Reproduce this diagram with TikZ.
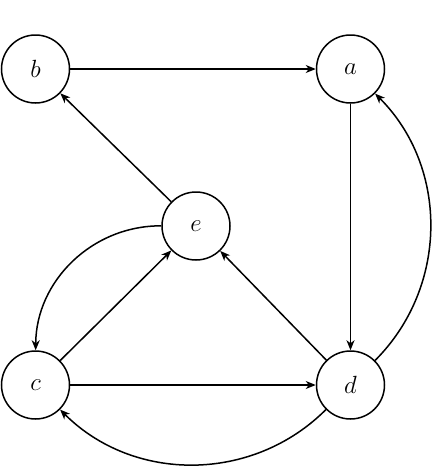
\documentclass[tikz,border=0pt]{standalone}
\usetikzlibrary{arrows.meta}
\begin{document}
\begin{tikzpicture}[x=1pt,y=-1pt,
  vertex/.style={circle,draw,line width=1.5pt,minimum size=68pt,inner sep=0pt,font=\fontsize{24}{28}\selectfont},
  edge/.style={line width=1.5pt,-{Stealth[length=10pt,width=8pt,inset=3pt]}}]
\useasboundingbox (0,0) rectangle (432,466);
\node[vertex] (b) at (35.5,69) {$b$};
\node[vertex] (a) at (350.5,69) {$a$};
\node[vertex] (e) at (196,226) {$e$};
\node[vertex] (c) at (35.5,385) {$c$};
\node[vertex] (d) at (350.5,385) {$d$};
\draw[edge] (b) -- (a);
\draw[edge] (a) -- (d);
\draw[edge] (d) to[bend right=45] (a);
\draw[edge] (e) -- (b);
\draw[edge] (e) to[bend right=45] (c);
\draw[edge] (c) -- (e);
\draw[edge] (d) -- (e);
\draw[edge] (c) -- (d);
\draw[edge] (d) to[bend left=45] (c);
\end{tikzpicture}
\end{document}
